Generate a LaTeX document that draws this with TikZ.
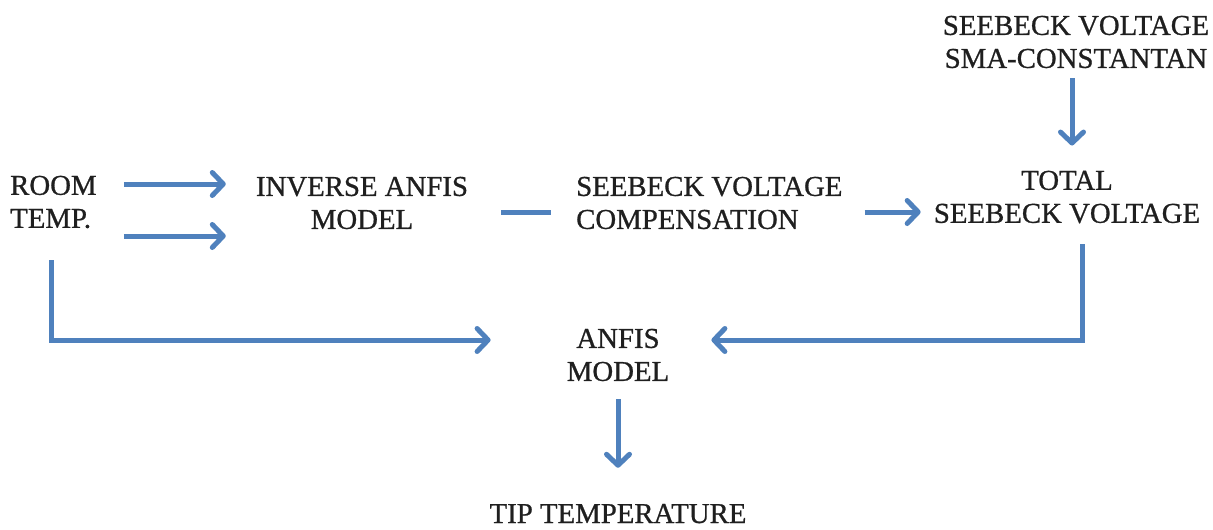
\documentclass[tikz,border=0pt]{standalone}
\usepackage{fontspec}
\setmainfont[FakeBold=0.8]{Liberation Serif}
\usetikzlibrary{arrows.meta,calc}
\definecolor{lineblue}{RGB}{79,129,189}
\begin{document}
\begin{tikzpicture}[x=1pt,y=-1pt,
  txt/.style={inner sep=0pt, font=\fontsize{28.8}{33}\selectfont, text=black!88},
  arr/.style={draw=lineblue, line width=5pt, -{Straight Barb[length=11pt,width=23pt,round]}},
  plain/.style={draw=lineblue, line width=5pt}]
\useasboundingbox (0,0) rectangle (1213,530);
\node[txt, anchor=west, align=left] (room) at (10,202) {ROOM\\TEMP.};
\node[txt, align=center] (inv) at (362,203) {INVERSE ANFIS\\MODEL};
\node[txt, anchor=west, align=left] (comp) at (576,203) {SEEBECK VOLTAGE\\COMPENSATION};
\node[txt, align=center] (total) at (1067,197) {TOTAL\\SEEBECK VOLTAGE};
\node[txt, align=center] (sma) at (1076,42) {SEEBECK VOLTAGE\\SMA-CONSTANTAN};
\node[txt, align=center] (anfis) at (618,355) {ANFIS\\MODEL};
\node[txt, anchor=base] (tip) at (618,523) {TIP TEMPERATURE};
\draw[arr] ($(room.east)+(27,-18)$) -- ($(inv.west)+(-30,-19)$);
\draw[arr] ($(room.east)+(27,34)$) -- ($(inv.west)+(-30,33)$);
\draw[plain] ($(inv.east)+(33,9)$) -- ($(comp.west)+(-25,9)$);
\draw[arr] ($(comp.east)+(22,9)$) -- ($(total.west)+(-13,15)$);
\draw[arr] ($(sma.south)+(-4,10)$) -- ($(total.north)+(5,-25)$);
\draw[arr] ($(total.south)+(15,21)$) |- ($(anfis.east)+(42,-15)$);
\draw[arr] ($(room.south)+(-2,32)$) |- ($(anfis.west)+(-76,-15)$);
\draw[arr] ($(anfis.south)+(0,18)$) -- ($(tip.north)+(0,-36)$);
\end{tikzpicture}
\end{document}
